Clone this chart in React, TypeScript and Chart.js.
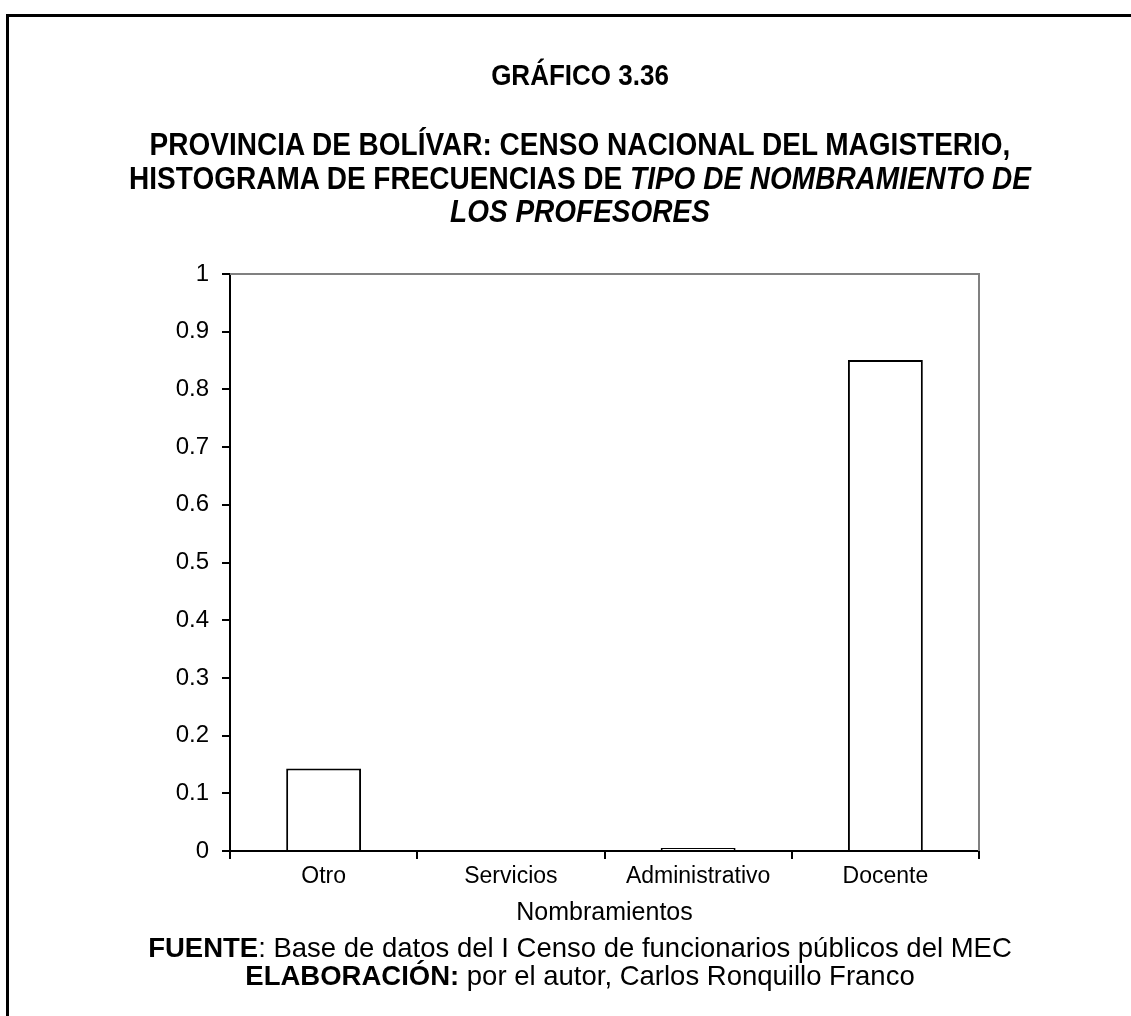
import React, { useEffect, useRef } from "react";
import { Chart, registerables } from "chart.js";

Chart.register(...registerables);

const categories: string[] = ["Otro", "Servicios", "Administrativo", "Docente"];
const frequencies: number[] = [0.143, 0, 0.005, 0.851];
const yMin = 0;
const yMax = 1;
const yStep = 0.1;

const chartNumber = "GRÁFICO 3.36";
const titleLine1 = "PROVINCIA DE BOLÍVAR: CENSO NACIONAL DEL MAGISTERIO,";
const titleLine2Plain = "HISTOGRAMA DE FRECUENCIAS DE ";
const titleLine2Italic = "TIPO DE NOMBRAMIENTO DE";
const titleLine3Italic = "LOS PROFESORES";
const xAxisTitle = "Nombramientos";
const sourceLabel = "FUENTE";
const sourceText = " Base de datos del I Censo de funcionarios públicos del MEC";
const authorLabel = "ELABORACIÓN:";
const authorText = " por el autor, Carlos Ronquillo Franco";

const FONT = "'Liberation Sans', Arial, Helvetica, sans-serif";

const plotFrame = {
  id: "plotFrame",
  afterDatasetsDraw(chart: any) {
    const { ctx, chartArea } = chart;
    ctx.save();
    ctx.strokeStyle = "#808080";
    ctx.lineWidth = 2;
    ctx.beginPath();
    ctx.moveTo(chartArea.left, chartArea.top);
    ctx.lineTo(chartArea.right, chartArea.top);
    ctx.lineTo(chartArea.right, chartArea.bottom);
    ctx.stroke();
    ctx.restore();
  },
};

function Line(props: {
  y: number;
  size: number;
  bold?: boolean;
  stretch?: number;
  children: React.ReactNode;
}) {
  const lh = Math.round(props.size * 1.2);
  return (
    <div
      style={{
        position: "absolute",
        left: 0,
        width: 1160,
        top: props.y - lh / 2,
        height: lh,
        lineHeight: `${lh}px`,
        textAlign: "center",
        fontFamily: FONT,
        fontSize: props.size,
        fontWeight: props.bold ? "bold" : "normal",
        color: "#000",
        whiteSpace: "nowrap",
        transform: `scaleY(${props.stretch ?? 1})`,
        transformOrigin: "50% 50%",
      }}
    >
      {props.children}
    </div>
  );
}

export default function App() {
  const canvasRef = useRef<HTMLCanvasElement | null>(null);

  useEffect(() => {
    const canvas = canvasRef.current;
    if (!canvas) return;
    const chart = new Chart(canvas, {
      type: "bar",
      data: {
        labels: categories,
        datasets: [
          {
            data: frequencies,
            backgroundColor: "#ffffff",
            borderColor: "#000000",
            borderWidth: 2,
            barPercentage: 0.4,
            categoryPercentage: 1,
          },
        ],
      },
      options: {
        responsive: false,
        animation: false,
        events: [],
        layout: { padding: { left: 170, right: 152, top: 274, bottom: 84 } },
        plugins: {
          legend: { display: false },
          title: { display: false },
          tooltip: { enabled: false },
        },
        scales: {
          x: {
            afterFit: (s: any) => {
              s.height = 81;
            },
            grid: {
              offset: true,
              drawOnChartArea: false,
              drawTicks: true,
              tickLength: 8,
              color: "#000000",
              lineWidth: 2,
            },
            border: { display: true, color: "#000000", width: 2 },
            ticks: {
              color: "#000000",
              padding: 4,
              font: { family: FONT, size: 23 },
              maxRotation: 0,
            },
            title: {
              display: true,
              text: xAxisTitle,
              color: "#000000",
              font: { family: FONT, size: 25 },
              padding: { top: 4, bottom: 4 },
            },
          },
          y: {
            min: yMin,
            max: yMax,
            afterFit: (s: any) => {
              s.width = 60;
            },
            grid: {
              drawOnChartArea: false,
              drawTicks: true,
              tickLength: 8,
              color: "#000000",
              lineWidth: 2,
            },
            border: { display: true, color: "#000000", width: 2 },
            ticks: {
              stepSize: yStep,
              color: "#000000",
              padding: 13,
              font: { family: FONT, size: 24 },
              callback: (v: any) => String(Math.round(Number(v) * 10) / 10),
            },
          },
        },
      },
      plugins: [plotFrame],
    });
    return () => chart.destroy();
  }, []);

  return (
    <div
      style={{
        position: "absolute",
        left: 0,
        top: 0,
        width: 1131,
        height: 1016,
        overflow: "hidden",
        background: "#fff",
      }}
    >
      <div
        style={{
          position: "absolute",
          left: 6,
          top: 14,
          width: 1125,
          height: 1002,
          boxSizing: "border-box",
          borderTop: "3px solid #000",
          borderLeft: "3px solid #000",
        }}
      />
      <canvas
        ref={canvasRef}
        width={1131}
        height={1016}
        style={{ position: "absolute", left: 0, top: 0, width: 1131, height: 1016 }}
      />
      <Line y={75} size={26} bold stretch={1.12}>
        {chartNumber}
      </Line>
      <Line y={145} size={28} bold stretch={1.12}>
        {titleLine1}
      </Line>
      <Line y={178.5} size={28} bold stretch={1.12}>
        {titleLine2Plain}
        <i>{titleLine2Italic}</i>
      </Line>
      <Line y={212} size={28} bold stretch={1.12}>
        <i>{titleLine3Italic}</i>
      </Line>
      <Line y={947} size={27.5}>
        <b>{sourceLabel}</b>:{sourceText}
      </Line>
      <Line y={975} size={27.5}>
        <b>{authorLabel}</b>
        {authorText}
      </Line>
    </div>
  );
}
